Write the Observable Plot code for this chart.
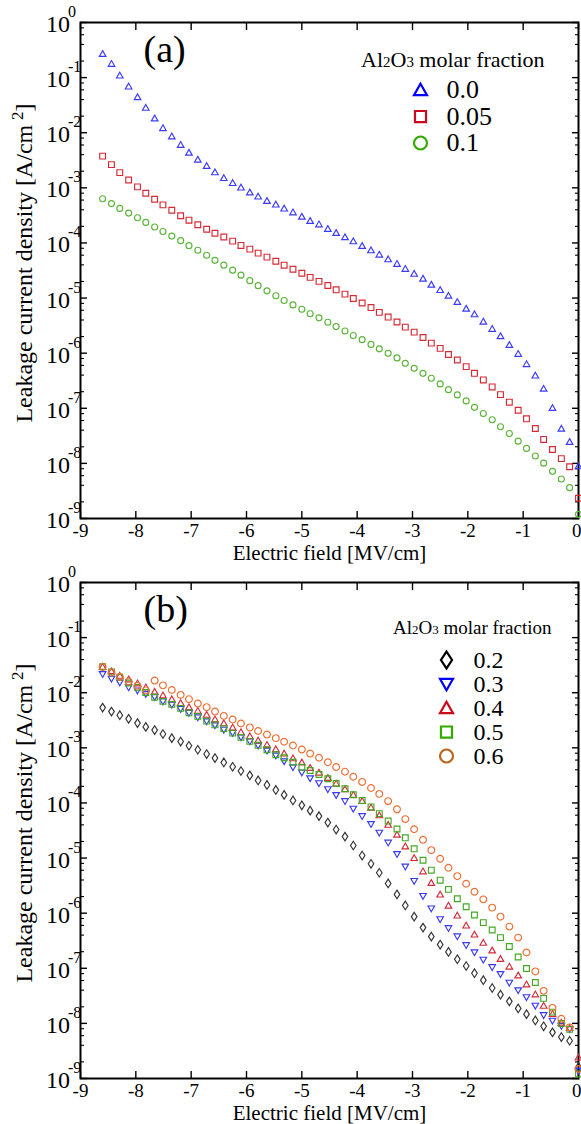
<!DOCTYPE html>
<html><head><meta charset="utf-8">
<script src="https://cdn.jsdelivr.net/npm/d3@7"></script>
<script src="https://cdn.jsdelivr.net/npm/@observablehq/plot@0.6"></script>
<style>
html,body{margin:0;padding:0;background:#fff;overflow:hidden;}
#chart svg{display:block;}
</style></head><body><div id="chart"></div>
<script>
// Electric field (MV/cm), shared by every series
const E = [-8.60,-8.44,-8.29,-8.13,-7.97,-7.82,-7.66,-7.51,-7.35,-7.19,
  -7.04,-6.88,-6.72,-6.57,-6.41,-6.25,-6.10,-5.94,-5.79,-5.63,
  -5.47,-5.32,-5.16,-5.00,-4.85,-4.69,-4.53,-4.38,-4.22,-4.07,
  -3.91,-3.75,-3.60,-3.44,-3.28,-3.13,-2.97,-2.81,-2.66,-2.50,
  -2.35,-2.19,-2.03,-1.88,-1.72,-1.56,-1.41,-1.25,-1.09,-0.94,
  -0.78,-0.63,-0.47,-0.31,-0.16,0.00];

// Panel (a): leakage current density (A/cm2)
const J_000 = [2.71e-1,1.79e-1,1.10e-1,6.94e-2,4.45e-2,2.86e-2,1.83e-2,1.22e-2,8.64e-3,6.06e-3,
  4.38e-3,3.27e-3,2.51e-3,1.93e-3,1.52e-3,1.23e-3,1.02e-3,8.31e-4,7.00e-4,5.83e-4,
  5.02e-4,4.25e-4,3.61e-4,3.02e-4,2.53e-4,2.19e-4,1.81e-4,1.53e-4,1.28e-4,1.08e-4,
  8.90e-5,7.41e-5,6.19e-5,5.09e-5,4.20e-5,3.41e-5,2.78e-5,2.26e-5,1.76e-5,1.41e-5,
  1.11e-5,8.55e-6,6.47e-6,5.12e-6,3.76e-6,2.78e-6,2.05e-6,1.42e-6,9.79e-7,6.38e-7,
  3.96e-7,2.28e-7,1.02e-7,4.30e-8,2.47e-8,8.94e-9];
const J_005 = [3.76e-3,2.64e-3,1.89e-3,1.39e-3,1.04e-3,7.97e-4,6.21e-4,4.91e-4,3.91e-4,3.11e-4,
  2.59e-4,2.14e-4,1.77e-4,1.50e-4,1.28e-4,1.08e-4,9.01e-5,7.72e-5,6.54e-5,5.53e-5,
  4.65e-5,3.95e-5,3.34e-5,2.82e-5,2.37e-5,2.01e-5,1.69e-5,1.41e-5,1.18e-5,9.81e-6,
  8.14e-6,6.72e-6,5.50e-6,4.52e-6,3.67e-6,2.97e-6,2.41e-6,1.92e-6,1.52e-6,1.22e-6,
  9.47e-7,7.53e-7,5.70e-7,4.31e-7,3.27e-7,2.44e-7,1.77e-7,1.29e-7,9.22e-8,6.44e-8,
  4.30e-8,2.72e-8,1.79e-8,1.22e-8,8.68e-9,2.33e-9];
const J_010 = [6.34e-4,5.17e-4,4.23e-4,3.48e-4,2.86e-4,2.36e-4,1.95e-4,1.61e-4,1.33e-4,1.10e-4,
  8.94e-5,7.38e-5,5.99e-5,4.84e-5,3.95e-5,3.21e-5,2.60e-5,2.07e-5,1.68e-5,1.35e-5,
  1.10e-5,9.03e-6,7.52e-6,6.26e-6,5.19e-6,4.37e-6,3.64e-6,3.04e-6,2.53e-6,2.09e-6,
  1.76e-6,1.44e-6,1.20e-6,9.92e-7,8.19e-7,6.54e-7,5.31e-7,4.31e-7,3.50e-7,2.77e-7,
  2.18e-7,1.75e-7,1.36e-7,1.04e-7,8.04e-8,6.18e-8,4.62e-8,3.49e-8,2.53e-8,1.87e-8,
  1.36e-8,1.01e-8,7.17e-9,5.20e-9,3.63e-9,1.19e-9];

// Panel (b)
const J_020 = [5.37e-3,4.55e-3,3.91e-3,3.36e-3,2.81e-3,2.40e-3,2.10e-3,1.78e-3,1.50e-3,1.30e-3,
  1.09e-3,9.22e-4,7.71e-4,6.52e-4,5.43e-4,4.54e-4,3.80e-4,3.16e-4,2.56e-4,2.12e-4,
  1.72e-4,1.40e-4,1.11e-4,9.05e-5,7.25e-5,5.77e-5,4.40e-5,3.29e-5,2.45e-5,1.69e-5,
  1.11e-5,7.87e-6,5.41e-6,3.46e-6,2.19e-6,1.38e-6,8.64e-7,5.47e-7,3.76e-7,2.69e-7,
  1.98e-7,1.46e-7,1.10e-7,8.14e-8,6.08e-8,4.39e-8,3.32e-8,2.51e-8,1.87e-8,1.47e-8,
  1.13e-8,8.86e-9,6.87e-9,5.65e-9,4.84e-9,1.62e-9];
const J_030 = [2.16e-2,1.78e-2,1.52e-2,1.24e-2,1.09e-2,9.40e-3,8.29e-3,6.90e-3,6.01e-3,5.03e-3,
  4.26e-3,3.54e-3,3.00e-3,2.54e-3,2.12e-3,1.85e-3,1.54e-3,1.30e-3,1.09e-3,8.84e-4,
  7.18e-4,5.66e-4,4.41e-4,3.54e-4,2.78e-4,2.26e-4,1.76e-4,1.38e-4,1.07e-4,7.79e-5,
  5.72e-5,4.10e-5,2.86e-5,1.89e-5,1.17e-5,6.94e-6,3.81e-6,2.04e-6,1.21e-6,7.72e-7,
  5.31e-7,3.76e-7,2.61e-7,1.93e-7,1.42e-7,1.04e-7,7.80e-8,5.43e-8,3.96e-8,2.96e-8,
  2.08e-8,1.40e-8,1.11e-8,8.94e-9,7.88e-9,1.37e-9];
const J_040 = [2.97e-2,2.48e-2,2.04e-2,1.76e-2,1.49e-2,1.26e-2,1.05e-2,9.01e-3,7.66e-3,6.54e-3,
  5.49e-3,4.72e-3,4.00e-3,3.31e-3,2.81e-3,2.35e-3,1.94e-3,1.63e-3,1.37e-3,1.14e-3,
  9.49e-4,7.93e-4,6.52e-4,5.48e-4,4.35e-4,3.58e-4,2.87e-4,2.26e-4,1.79e-4,1.41e-4,
  1.09e-4,8.29e-5,6.01e-5,4.05e-5,2.67e-5,1.64e-5,1.01e-5,5.78e-6,3.56e-6,2.19e-6,
  1.38e-6,9.12e-7,6.01e-7,4.13e-7,2.92e-7,2.12e-7,1.49e-7,1.08e-7,7.48e-8,5.14e-8,
  3.39e-8,2.10e-8,1.50e-8,1.04e-8,8.29e-9,2.42e-9];
const J_050 = [2.97e-2,2.38e-2,1.91e-2,1.50e-2,1.25e-2,1.01e-2,8.29e-3,6.96e-3,6.14e-3,5.20e-3,
  4.31e-3,3.72e-3,3.05e-3,2.61e-3,2.23e-3,1.85e-3,1.55e-3,1.31e-3,1.11e-3,9.22e-4,
  7.48e-4,6.60e-4,5.48e-4,4.45e-4,3.88e-4,3.29e-4,2.75e-4,2.25e-4,1.81e-4,1.41e-4,
  1.11e-4,8.47e-5,6.40e-5,4.69e-5,3.36e-5,2.33e-5,1.47e-5,9.14e-6,6.03e-6,3.97e-6,
  2.70e-6,1.83e-6,1.31e-6,9.24e-7,6.73e-7,4.94e-7,3.60e-7,2.48e-7,1.60e-7,9.90e-8,
  5.52e-8,2.84e-8,1.60e-8,9.92e-9,7.79e-9,1.21e-9];
const J_060 = [2.93e-2,2.33e-2,1.93e-2,1.60e-2,1.33e-2,1.10e-2,1.66e-2,1.36e-2,1.12e-2,9.12e-3,
  7.63e-3,6.35e-3,5.47e-3,4.55e-3,3.80e-3,3.26e-3,2.76e-3,2.35e-3,2.02e-3,1.74e-3,
  1.50e-3,1.29e-3,1.10e-3,9.33e-4,7.87e-4,6.60e-4,5.48e-4,4.48e-4,3.69e-4,2.99e-4,
  2.41e-4,1.87e-4,1.46e-4,1.08e-4,7.66e-5,5.09e-5,3.33e-5,2.14e-5,1.39e-5,9.69e-6,
  6.66e-6,4.69e-6,3.42e-6,2.45e-6,1.78e-6,1.26e-6,8.64e-7,5.70e-7,3.60e-7,1.93e-7,
  8.77e-8,3.89e-8,1.91e-8,1.21e-8,8.47e-9,1.49e-9];

// ticks and labels
const xTicks = [-9,-8,-7,-6,-5,-4,-3,-2,-1,0];
const xTickLabels = ["-9","-8","-7","-6","-5","-4","-3","-2","-1","0"];
const yTicks = [1,1e-1,1e-2,1e-3,1e-4,1e-5,1e-6,1e-7,1e-8,1e-9];
const yTickExp = ["0","-1","-2","-3","-4","-5","-6","-7","-8","-9"];
const yMinorMult = [2,4,6,8];
const xLabel = "Electric field [MV/cm]";
const yLabelMain = "Leakage current density [A/cm";
const yLabelSup = "2";

// legend entries
const namesA = ["0.0","0.05","0.1"];
const namesB = ["0.2","0.3","0.4","0.5","0.6"];

// custom symbols (size = PI r^2)
const R = s => Math.sqrt(s / Math.PI);
const SYM = {
  triUp: {draw(c, s){const r=R(s); c.moveTo(0,-0.95*r); c.lineTo(r,0.8*r); c.lineTo(-r,0.8*r); c.closePath();}},
  triDown: {draw(c, s){const r=R(s); c.moveTo(0,0.95*r); c.lineTo(r,-0.8*r); c.lineTo(-r,-0.8*r); c.closePath();}},
  square: {draw(c, s){const r=R(s), h=0.85*r; c.moveTo(-h,-h); c.lineTo(h,-h); c.lineTo(h,h); c.lineTo(-h,h); c.closePath();}},
  circle: {draw(c, s){const r=R(s); c.moveTo(r,0); c.arc(0,0,r,0,2*Math.PI);}},
  diamond: {draw(c, s){const r=R(s); c.moveTo(0,-1.3*r); c.lineTo(0.85*r,0); c.lineTo(0,1.3*r); c.lineTo(-0.85*r,0); c.closePath();}}
};

const seriesA = [
  {name: namesA[0], J: J_000, sym: SYM.triUp, color: "#3a3aff", legendColor: "#0000ff", r: 3.3},
  {name: namesA[1], J: J_005, sym: SYM.square, color: "#d42a34", legendColor: "#cc0a1e", r: 3.4},
  {name: namesA[2], J: J_010, sym: SYM.circle, color: "#5cb43a", legendColor: "#33aa00", r: 3.0}
];
const seriesB = [
  {name: namesB[0], J: J_020, sym: SYM.diamond, color: "#333333", legendColor: "#000000", r: 3.3},
  {name: namesB[1], J: J_030, sym: SYM.triDown, color: "#3838f5", legendColor: "#0000ff", r: 3.3},
  {name: namesB[2], J: J_040, sym: SYM.triUp, color: "#d42a3a", legendColor: "#cc0a1e", r: 3.3},
  {name: namesB[3], J: J_050, sym: SYM.square, color: "#44a822", legendColor: "#33aa00", r: 3.4},
  {name: namesB[4], J: J_060, sym: SYM.circle, color: "#ee6e34", legendColor: "#b8661c", r: 3.4}
];

const FONT = "'Liberation Serif', 'Times New Roman', serif";
const AXIS = {tickDy: 12, tickSize: 19, labelDy: 34.5, labelSize: 21};

function panel({series, height, marginBottom, tag, legend}) {
  const yMinor = yTicks.slice(1).flatMap(d => yMinorMult.map(k => k * d));
  const T = {fontFamily: FONT, lineAnchor: "middle", fill: "#000"};
  const marks = [
    Plot.axisX({anchor: "bottom", ticks: xTicks, tickSize: -7, fill: "none", label: null, strokeWidth: 1.4}),
    Plot.axisX({anchor: "top", ticks: xTicks, tickSize: -7, fill: "none", label: null, strokeWidth: 1.4}),
    Plot.axisY({anchor: "left", ticks: yTicks, tickSize: -7, fill: "none", label: null, strokeWidth: 1.4}),
    Plot.axisY({anchor: "left", ticks: yMinor, tickSize: -4, fill: "none", label: null, strokeWidth: 1.1}),
    Plot.axisY({anchor: "right", ticks: yTicks, tickSize: -7, fill: "none", label: null, strokeWidth: 1.4}),
    Plot.axisY({anchor: "right", ticks: yMinor, tickSize: -4, fill: "none", label: null, strokeWidth: 1.1}),
    Plot.frame({stroke: "#000", strokeWidth: 2}),
    Plot.text(xTicks.slice(0, -1), {...T, x: d => d, frameAnchor: "bottom", dy: AXIS.tickDy, text: (d, i) => xTickLabels[i], textAnchor: "middle", fontSize: AXIS.tickSize}),
    Plot.text(xTicks.slice(-1), {...T, x: d => d, frameAnchor: "bottom", dy: AXIS.tickDy, dx: 3, text: () => xTickLabels[xTickLabels.length - 1], textAnchor: "end", fontSize: AXIS.tickSize}),
    Plot.text([xLabel], {...T, frameAnchor: "bottom", dy: AXIS.labelDy, text: d => d, textAnchor: "middle", fontSize: AXIS.labelSize}),
    Plot.text([tag], {...T, frameAnchor: "top-left", dx: 63, dy: 27, text: d => d, textAnchor: "start", fontSize: 38}),
    ...series.map(s => Plot.dot(E.map((e, i) => ({E: e, J: s.J[i]})), {
      x: "E", y: "J", symbol: s.sym, r: s.r, stroke: s.color, fill: "none", strokeWidth: 1.15
    })),
    ...series.map((s, i) => Plot.dot([s.name], {
      frameAnchor: "top-left", dx: legend.symDx, dy: legend.dy0 + i * legend.step,
      symbol: s.sym, r: legend.r, stroke: s.legendColor, fill: "none", strokeWidth: 2.2
    })),
    ...series.map((s, i) => Plot.text([s.name], {...T,
      frameAnchor: "top-left", dx: legend.textDx, dy: legend.dy0 + i * legend.step,
      text: d => d, textAnchor: "start", fontSize: legend.fontSize
    }))
  ];
  const svg = Plot.plot({
    width: 581, height, marginLeft: 80, marginRight: 3, marginTop: 22, marginBottom,
    style: {fontFamily: FONT, color: "#000", background: "transparent", overflow: "visible"},
    x: {domain: [-9, 0]},
    y: {type: "log", domain: [1e-9, 1]},
    marks
  });
  const ys = svg.scale("y");
  const root = d3.select(svg);
  // y tick labels 10^n, positioned through Plot's y scale
  const gy = root.append("g").attr("font-family", FONT).attr("fill", "#000").attr("text-anchor", "start");
  yTicks.forEach((v, i) => {
    const t = gy.append("text").attr("x", 46).attr("y", ys.apply(v) + 10).attr("font-size", 24);
    t.append("tspan").text("10");
    t.append("tspan").attr("font-size", 16).attr("dx", -2).attr("dy", -15).text(yTickExp[i]);
  });
  // y axis title with superscript
  const ty = root.append("text").attr("transform", `translate(32,${(22 + 518) / 2 - 7}) rotate(-90)`)
    .attr("text-anchor", "middle").attr("font-family", FONT).attr("font-size", 24).attr("fill", "#000");
  ty.append("tspan").text(yLabelMain + "\u2009");
  ty.append("tspan").attr("font-size", 17).attr("dy", -9).text(yLabelSup);
  ty.append("tspan").attr("dy", 9).text("]");
  // legend title with small digits in Al2O3
  const t = root.append("text")
    .attr("x", legend.titleX).attr("y", legend.titleY).attr("text-anchor", "start")
    .attr("font-family", FONT).attr("font-size", legend.titleSize).attr("fill", "#000");
  t.append("tspan").text("Al");
  t.append("tspan").attr("font-size", legend.titleSize * 0.68).text("2");
  t.append("tspan").text("O");
  t.append("tspan").attr("font-size", legend.titleSize * 0.68).text("3");
  t.append("tspan").text(" molar fraction");
  return svg;
}

const chart = document.getElementById("chart");
chart.append(panel({
  series: seriesA, height: 560, marginBottom: 42, tag: "(a)",
  legend: {symDx: 340, textDx: 366, dy0: 67.5, step: 26.5, r: 6.5, fontSize: 26, titleX: 361, titleY: 67, titleSize: 22}
}));
chart.append(panel({
  series: seriesB, height: 564, marginBottom: 46, tag: "(b)",
  legend: {symDx: 366, textDx: 393, dy0: 77.5, step: 24, r: 6.5, fontSize: 24, titleX: 393, titleY: 74, titleSize: 19}
}));
</script></body></html>
